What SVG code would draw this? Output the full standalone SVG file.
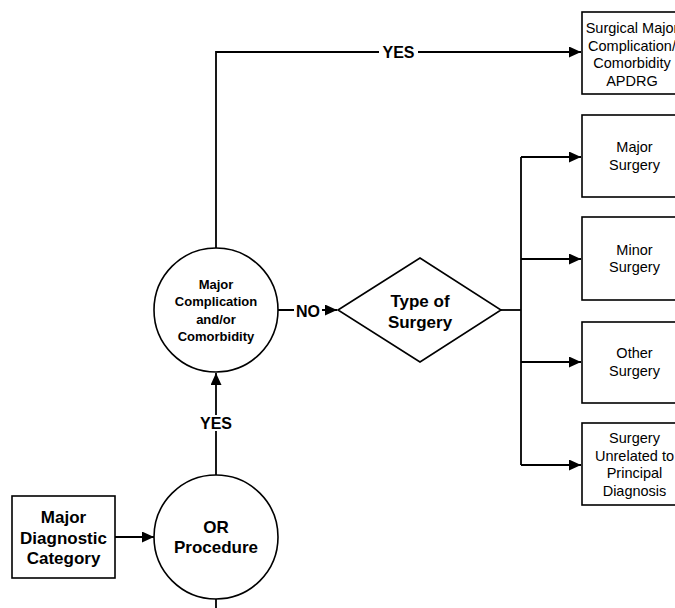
<svg xmlns="http://www.w3.org/2000/svg" width="675" height="608" viewBox="0 0 675 608">
<style>
.shape{fill:#fff;stroke:#000;stroke-width:1.6}
.conn{fill:none;stroke:#000;stroke-width:1.8}
.b{font-family:"Liberation Sans",Arial,sans-serif;font-weight:bold;text-anchor:middle;fill:#000}
.r{font-family:"Liberation Sans",Arial,sans-serif;font-size:14.5px;text-anchor:middle;fill:#000}
.lbl{font-family:"Liberation Sans",Arial,sans-serif;font-weight:bold;font-size:16px;text-anchor:middle;fill:#000}
</style>
<defs>
<marker id="arr" markerUnits="userSpaceOnUse" markerWidth="13" markerHeight="11" refX="12" refY="5.5" orient="auto">
<path d="M0,0 L12,5.5 L0,11 Z" fill="#000"/>
</marker>
</defs>
<rect width="675" height="608" fill="#fff"/>
<g id="connectors">
<path class="conn" d="M115,537 H154" marker-end="url(#arr)"/>
<path class="conn" d="M216,475 V373" marker-end="url(#arr)"/>
<path class="conn" d="M216,248 V52 H581" marker-end="url(#arr)"/>
<path class="conn" d="M277,310 H337" marker-end="url(#arr)"/>
<path class="conn" d="M501,310 H521"/>
<path class="conn" d="M521,157 V465"/>
<path class="conn" d="M521,157 H581" marker-end="url(#arr)"/>
<path class="conn" d="M521,259 H581" marker-end="url(#arr)"/>
<path class="conn" d="M521,362 H581" marker-end="url(#arr)"/>
<path class="conn" d="M521,465 H581" marker-end="url(#arr)"/>
<path class="conn" d="M216,599 V608"/>
<rect x="198" y="415" width="36" height="16" fill="#fff"/>
<text class="lbl" x="216" y="429">YES</text>
<rect x="379" y="44" width="39" height="16" fill="#fff"/>
<text class="lbl" x="398.5" y="58">YES</text>
<rect x="294" y="303" width="28" height="16" fill="#fff"/>
<text class="lbl" x="308" y="317">NO</text>
</g>
<g id="mdc">
<rect class="shape" x="12" y="496" width="103" height="82"/>
<text class="b" font-size="17" x="63.5" y="523">Major</text>
<text class="b" font-size="17" x="63.5" y="543.5">Diagnostic</text>
<text class="b" font-size="17" x="63.5" y="564">Category</text>
</g>
<g id="or-procedure">
<circle class="shape" cx="216" cy="537" r="62"/>
<text class="b" font-size="17" x="216" y="532.5">OR</text>
<text class="b" font-size="17" x="216" y="553">Procedure</text>
</g>
<g id="mcc">
<circle class="shape" cx="216" cy="310" r="62"/>
<text class="b" font-size="13" x="216" y="288.5">Major</text>
<text class="b" font-size="13" x="216" y="306">Complication</text>
<text class="b" font-size="13" x="216" y="323.5">and/or</text>
<text class="b" font-size="13" x="216" y="341">Comorbidity</text>
</g>
<g id="type-of-surgery">
<polygon class="shape" points="338,310 420,258 501,310 420,362"/>
<text class="b" font-size="17" x="420" y="307">Type of</text>
<text class="b" font-size="17" x="420" y="328">Surgery</text>
</g>
<g id="surgical-mcc-apdrg">
<rect class="shape" x="582" y="12" width="110" height="82"/>
<text class="r" x="632" y="33">Surgical Major</text>
<text class="r" x="632" y="50.5">Complication/</text>
<text class="r" x="632" y="68">Comorbidity</text>
<text class="r" x="632" y="85.5">APDRG</text>
</g>
<g id="major-surgery">
<rect class="shape" x="582" y="115" width="110" height="82"/>
<text class="r" x="634.5" y="152">Major</text>
<text class="r" x="634.5" y="169.5">Surgery</text>
</g>
<g id="minor-surgery">
<rect class="shape" x="582" y="217" width="110" height="83"/>
<text class="r" x="634.5" y="254.5">Minor</text>
<text class="r" x="634.5" y="272">Surgery</text>
</g>
<g id="other-surgery">
<rect class="shape" x="582" y="322" width="110" height="81"/>
<text class="r" x="634.5" y="358">Other</text>
<text class="r" x="634.5" y="375.5">Surgery</text>
</g>
<g id="unrelated-surgery">
<rect class="shape" x="582" y="423" width="110" height="82"/>
<text class="r" x="634.5" y="443">Surgery</text>
<text class="r" x="634.5" y="460.5">Unrelated to</text>
<text class="r" x="634.5" y="478">Principal</text>
<text class="r" x="634.5" y="495.5">Diagnosis</text>
</g>
</svg>
